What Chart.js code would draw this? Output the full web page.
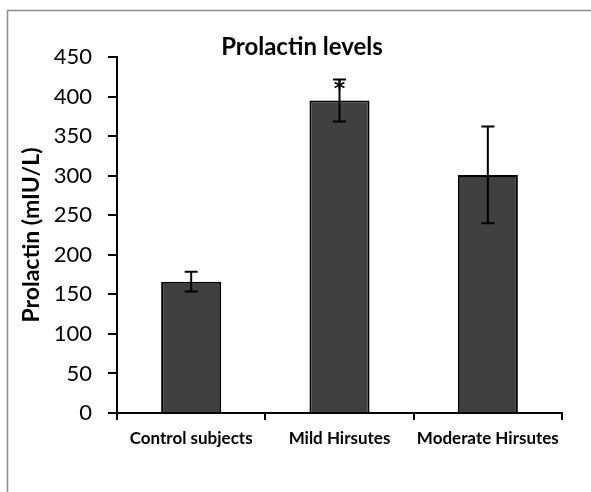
<!DOCTYPE html>
<html>
<head>
<meta charset="utf-8">
<title>Prolactin levels</title>
<script src="https://cdn.jsdelivr.net/npm/chart.js@4.4.1/dist/chart.umd.min.js"></script>
<style>
  html, body { margin: 0; padding: 0; background: #fff; }
</style>
</head>
<body>
<canvas id="prolactin-chart" width="591" height="492"></canvas>
<script>
// data
var groups = ["Control subjects", "Mild Hirsutes", "Moderate Hirsutes"];
var prolactin = [166, 395, 301];
var prolactinErr = [12.5, 26.5, 61];
var marks = ["", "*", ""];
var yMin = 0, yMax = 450, yStep = 50;

var fontFamily = "Lato, 'Open Sans', sans-serif";

// grey frame round the whole chart
var frame = {
      id: 'frame',
      beforeDraw: function(chart){
            var ctx = chart.ctx;
            ctx.save();
            ctx.fillStyle = '#fff';
            ctx.fillRect(0, 0, chart.width, chart.height);
            ctx.strokeStyle = '#8c8c8c';
            ctx.lineWidth = 1.5;
            ctx.beginPath();
            ctx.moveTo(7.5, chart.height);
            ctx.lineTo(7.5, 10.5);
            ctx.lineTo(chart.width, 10.5);
            ctx.stroke();
            ctx.restore();
      }
};

// chart title, sits a bit left of the plot centre like in the original
var chartTitle = {
      id: 'chartTitle',
      afterDraw: function(chart){
            var ctx = chart.ctx;
            ctx.save();
            ctx.fillStyle = '#000';
            ctx.font = 'bold 24px ' + fontFamily;
            ctx.textAlign = 'center';
            ctx.textBaseline = 'alphabetic';
            ctx.fillText('Prolactin levels', 302, 55);
            ctx.restore();
      }
};

// error bars + significance marks, placed with the y scale
var errorBars = {
      id: 'errorBars',
      afterDatasetsDraw: function(chart){
            var ctx = chart.ctx;
            var yScale = chart.scales.y;
            var meta = chart.getDatasetMeta(0);
            var cap = 6.5;
            ctx.save();
            ctx.strokeStyle = '#000';
            ctx.fillStyle = '#000';
            ctx.lineWidth = 2;
            meta.data.forEach(function(bar, i){
                  var top = yScale.getPixelForValue(prolactin[i] + prolactinErr[i]);
                  var bot = yScale.getPixelForValue(prolactin[i] - prolactinErr[i]);
                  ctx.beginPath();
                  ctx.moveTo(bar.x, top);
                  ctx.lineTo(bar.x, bot);
                  ctx.moveTo(bar.x - cap, top);
                  ctx.lineTo(bar.x + cap, top);
                  ctx.moveTo(bar.x - cap, bot);
                  ctx.lineTo(bar.x + cap, bot);
                  ctx.stroke();
                  if(marks[i]){
                        ctx.font = "bold 22px 'DejaVu Sans', sans-serif";
                        ctx.textAlign = 'center';
                        ctx.textBaseline = 'alphabetic';
                        ctx.fillText(marks[i], bar.x, top + 16);
                  }
            });
            ctx.restore();
      }
};

var ctx = document.getElementById('prolactin-chart');

var prolactinChart = new Chart(ctx, {
      type: 'bar',
      data: {
            labels: groups,
            datasets: [{
                  label: 'Prolactin',
                  data: prolactin,
                  backgroundColor: '#404040',
                  borderColor: '#000',
                  borderWidth: 2,
                  barPercentage: 0.405,
                  categoryPercentage: 1
            }]
      },
      options: {
            responsive: false,
            animation: false,
            devicePixelRatio: 1,
            layout: {
                  padding: { left: 10, top: 57, right: 29, bottom: 0 }
            },
            plugins: {
                  legend: { display: false },
                  tooltip: { enabled: false },
                  title: { display: false }
            },
            scales: {
                  x: {
                        grid: {
                              offset: true,
                              drawOnChartArea: false,
                              drawTicks: true,
                              tickLength: 7,
                              color: '#000',
                              lineWidth: 2
                        },
                        border: { display: true, color: '#000', width: 2 },
                        ticks: {
                              color: '#000',
                              padding: 8,
                              font: { family: fontFamily, size: 17, weight: 'bold' }
                        },
                        afterFit: function(scale){ scale.height = 79; }
                  },
                  y: {
                        min: yMin,
                        max: yMax,
                        grid: {
                              drawOnChartArea: false,
                              drawTicks: true,
                              tickLength: 9,
                              color: '#000',
                              lineWidth: 2
                        },
                        border: { display: true, color: '#000', width: 2 },
                        ticks: {
                              stepSize: yStep,
                              color: '#000',
                              padding: 16,
                              font: { family: fontFamily, size: 22 }
                        },
                        title: {
                              display: true,
                              text: 'Prolactin (mIU/L)',
                              color: '#000',
                              padding: { top: 7.5, bottom: 0 },
                              font: { family: fontFamily, size: 23, weight: 'bold' }
                        },
                        afterFit: function(scale){ scale.width = 107; }
                  }
            }
      },
      plugins: [frame, errorBars, chartTitle]
});
</script>
</body>
</html>
